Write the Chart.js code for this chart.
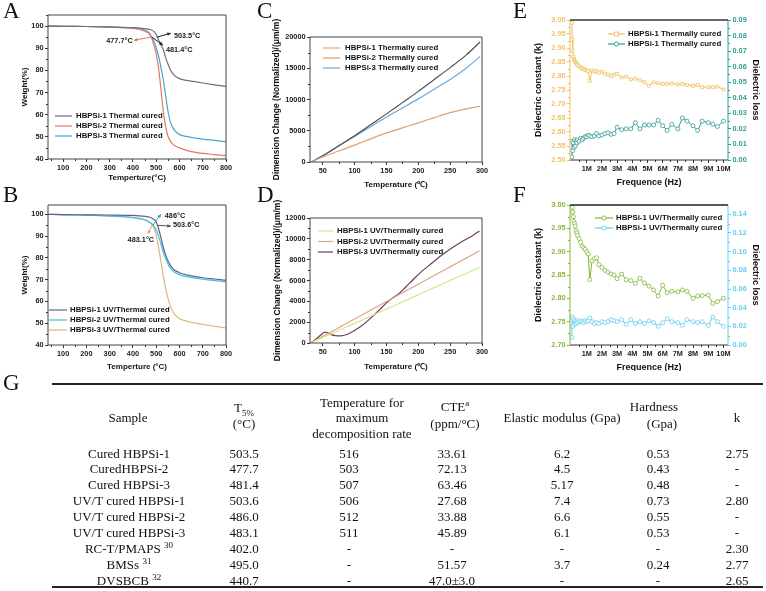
<!DOCTYPE html>
<html>
<head>
<meta charset="utf-8">
<script src="https://cdn.jsdelivr.net/npm/chart.js@4.4.0/dist/chart.umd.min.js"></script>
<style>
  body { margin: 0; background: #fff; width: 766px; height: 591px; position: relative; overflow: hidden; }
  canvas { position: absolute; }
  .lbl { position: absolute; font-family: "Liberation Serif", serif; font-size: 23px; line-height: 23px; color: #111; }
  #tbl { position: absolute; left: 0; top: 371px; width: 766px; height: 220px; background: #fff; }
  .c { position: absolute; width: 160px; text-align: center; font-family: "Liberation Serif", serif;
       font-size: 13px; line-height: 15px; white-space: nowrap; color: #111; }
  .c sup, .c sub { font-size: 9px; line-height: 0; }
  .rule { position: absolute; left: 52px; width: 711px; background: #222; }
</style>
</head>
<body>
<canvas id="cA" width="252" height="186" style="left:0;top:0"></canvas>
<canvas id="cB" width="252" height="190" style="left:0;top:185px"></canvas>
<canvas id="cC" width="255" height="192" style="left:255px;top:0"></canvas>
<canvas id="cD" width="255" height="190" style="left:255px;top:185px"></canvas>
<canvas id="cE" width="256" height="192" style="left:510px;top:0"></canvas>
<canvas id="cF" width="256" height="190" style="left:510px;top:185px"></canvas>
<div class="lbl" style="left:3px;top:-1px">A</div>
<div class="lbl" style="left:3px;top:183px">B</div>
<div class="lbl" style="left:257px;top:-1px">C</div>
<div class="lbl" style="left:257px;top:183px">D</div>
<div class="lbl" style="left:513px;top:-1px">E</div>
<div class="lbl" style="left:513px;top:183px">F</div>
<div id="tbl">
  <div class="lbl" style="left:3px;top:0">G</div>
  <div class="rule" style="top:12px;height:2px"></div>
  <div class="rule" style="top:215px;height:2px"></div>
</div>
<script>
// ------------------
// data
// ------------------
const tgaTemp = [35, 100, 200, 300, 400, 440, 460, 470, 480, 490, 500, 510, 520, 530, 540, 550, 560, 570, 580, 600, 630, 660, 700, 750, 800];
const thermal1 = [100, 99.9, 99.8, 99.6, 99.3, 99.0, 98.7, 98.5, 98.2, 97.6, 96.2, 93.8, 91.5, 89.5, 86.0, 83.0, 80.5, 78.8, 77.6, 76.3, 75.5, 75.0, 74.3, 73.5, 72.8];
const thermal2 = [100, 99.9, 99.8, 99.5, 99.0, 98.2, 97.2, 96.5, 94.8, 91.5, 87.5, 81.0, 72.0, 62.0, 55.0, 50.5, 48.3, 46.8, 46.0, 45.0, 43.9, 43.2, 42.5, 42.0, 41.5];
const thermal3 = [100, 99.9, 99.8, 99.5, 99.2, 98.6, 97.8, 96.9, 95.3, 93.2, 90.2, 86.5, 81.5, 76.0, 69.0, 62.0, 57.0, 54.5, 52.8, 51.0, 50.2, 49.6, 49.0, 48.4, 47.8];
const uv1 = [100, 99.9, 99.8, 99.7, 99.5, 99.2, 99.0, 98.8, 98.3, 97.6, 96.5, 93.5, 89.5, 85.0, 81.5, 78.8, 76.8, 75.3, 74.3, 73.2, 72.2, 71.6, 70.9, 70.3, 69.7];
const uv2 = [100, 99.8, 99.6, 99.2, 98.5, 97.8, 97.2, 96.6, 95.8, 94.5, 92.8, 90.0, 86.5, 82.8, 79.8, 77.3, 75.5, 74.2, 73.3, 72.3, 71.4, 70.8, 70.2, 69.6, 69.0];
const uv3 = [100, 99.9, 99.7, 99.3, 98.6, 97.8, 97.0, 96.3, 95.4, 93.8, 90.5, 85.0, 78.5, 72.0, 66.5, 61.8, 58.2, 55.6, 53.9, 52.1, 51.0, 50.3, 49.5, 48.6, 47.8];

const cteTemp = [32, 50, 75, 100, 125, 150, 175, 200, 225, 250, 275, 297];
const cteT1 = [0, 800, 1750, 2700, 3700, 4650, 5450, 6250, 7100, 7900, 8500, 8900];
const cteT2 = [0, 1000, 2600, 4200, 5950, 7700, 9500, 11300, 13200, 15100, 17100, 19200];
const cteT3 = [0, 1000, 2550, 4100, 5650, 7200, 8650, 10100, 11650, 13200, 15000, 16900];

const uvTemp = [31, 40, 48, 53, 57, 62, 70, 78, 88, 98, 110, 120, 130, 140, 150, 160, 168, 180, 192, 205, 220, 235, 252, 270, 285, 296];
const cteU1 = [0, 250, 470, 600, 710, 850, 1070, 1290, 1560, 1840, 2160, 2440, 2710, 2990, 3260, 3530, 3750, 4080, 4410, 4770, 5180, 5590, 6060, 6550, 6960, 7260];
const cteU2 = [0, 300, 570, 740, 870, 1040, 1300, 1570, 1900, 2240, 2640, 2970, 3310, 3640, 3980, 4310, 4580, 4980, 5380, 5810, 6310, 6820, 7380, 7980, 8480, 8850];
const cteU3 = [0, 400, 820, 1050, 980, 830, 700, 680, 820, 1130, 1600, 2100, 2650, 3250, 3850, 4350, 4650, 5350, 6100, 6850, 7600, 8350, 9100, 9800, 10300, 10750];

const freqM = [0.02, 0.05, 0.08, 0.12, 0.16, 0.2, 0.25, 0.3, 0.35, 0.4, 0.5, 0.6, 0.7, 0.8, 0.9, 1.0, 1.1, 1.2, 1.35, 1.5,
  1.65, 1.8, 2.0, 2.2, 2.4, 2.6, 2.8, 3.0, 3.3, 3.6, 3.9, 4.2, 4.5, 4.8, 5.1, 5.4, 5.7, 6.0, 6.3, 6.6,
  7.0, 7.3, 7.6, 8.0, 8.3, 8.6, 9.0, 9.3, 9.6, 10.0];
const kThermal = [2.99, 2.93, 2.89, 2.87, 2.86, 2.855, 2.85, 2.848, 2.842, 2.84, 2.835, 2.83, 2.828, 2.825, 2.822, 2.82, 2.818, 2.783, 2.82, 2.815,
  2.818, 2.812, 2.815, 2.808, 2.805, 2.80, 2.805, 2.808, 2.795, 2.798, 2.788, 2.79, 2.785, 2.778, 2.765, 2.777, 2.774, 2.772, 2.772, 2.774,
  2.77, 2.772, 2.768, 2.765, 2.768, 2.76, 2.76, 2.76, 2.762, 2.752];
const lossThermal = [0.002, 0.012, 0.006, 0.011, 0.008, 0.013, 0.009, 0.012, 0.011, 0.013, 0.012, 0.014, 0.013, 0.014, 0.015, 0.015, 0.016, 0.0155, 0.015, 0.0155,
  0.017, 0.0155, 0.016, 0.017, 0.0175, 0.0165, 0.017, 0.021, 0.0195, 0.02, 0.02, 0.024, 0.02, 0.0225, 0.0225, 0.0225, 0.0255, 0.022, 0.019, 0.023,
  0.02, 0.027, 0.025, 0.022, 0.019, 0.025, 0.024, 0.023, 0.0215, 0.025];
const kUV = [3.0, 2.995, 2.985, 2.975, 2.965, 2.96, 2.955, 2.945, 2.94, 2.935, 2.928, 2.92, 2.912, 2.908, 2.905, 2.90, 2.895, 2.84, 2.88, 2.885,
  2.887, 2.872, 2.866, 2.86, 2.856, 2.852, 2.85, 2.842, 2.852, 2.84, 2.838, 2.832, 2.843, 2.833, 2.826, 2.818, 2.805, 2.828, 2.812, 2.815,
  2.814, 2.818, 2.815, 2.80, 2.805, 2.806, 2.807, 2.789, 2.793, 2.80];
const lossUV = [0.008, 0.03, 0.02, 0.028, 0.022, 0.026, 0.024, 0.023, 0.026, 0.024, 0.025, 0.026, 0.025, 0.024, 0.026, 0.025, 0.026, 0.029, 0.025, 0.023,
  0.024, 0.023, 0.025, 0.024, 0.025, 0.027, 0.026, 0.025, 0.027, 0.022, 0.027, 0.023, 0.025, 0.023, 0.026, 0.024, 0.02, 0.024, 0.028, 0.025,
  0.024, 0.021, 0.027, 0.025, 0.024, 0.025, 0.021, 0.03, 0.025, 0.02];

// tick labels
const tgaTempTicks = [100, 200, 300, 400, 500, 600, 700, 800];
const weightTicks = [40, 50, 60, 70, 80, 90, 100];
const cteTempTicks = [50, 100, 150, 200, 250, 300];
const cteTicksC = [0, 5000, 10000, 15000, 20000];
const cteTicksD = [0, 2000, 4000, 6000, 8000, 10000, 12000];
const freqTicks = [1, 2, 3, 4, 5, 6, 7, 8, 9, 10];
const kTicksE = [2.5, 2.55, 2.6, 2.65, 2.7, 2.75, 2.8, 2.85, 2.9, 2.95, 3.0];
const lossTicksE = [0, 0.01, 0.02, 0.03, 0.04, 0.05, 0.06, 0.07, 0.08, 0.09];
const kTicksF = [2.7, 2.75, 2.8, 2.85, 2.9, 2.95, 3.0];
const lossTicksF = [0, 0.02, 0.04, 0.06, 0.08, 0.1, 0.12, 0.14];

// table G
const sampleNames = ['Cured HBPSi-1', 'CuredHBPSi-2', 'Cured HBPSi-3', 'UV/T cured HBPSi-1', 'UV/T cured HBPSi-2',
  'UV/T cured HBPSi-3', 'RC-T/PMAPS <sup>30</sup>', 'BMSs <sup>31</sup>', 'DVSBCB <sup>32</sup>'];
const t5 = ['503.5', '477.7', '481.4', '503.6', '486.0', '483.1', '402.0', '495.0', '440.7'];
const tMaxRate = ['516', '503', '507', '506', '512', '511', '-', '-', '-'];
const cteVals = ['33.61', '72.13', '63.46', '27.68', '33.88', '45.89', '-', '51.57', '47.0±3.0'];
const modulus = ['6.2', '4.5', '5.17', '7.4', '6.6', '6.1', '-', '3.7', '-'];
const hardness = ['0.53', '0.43', '0.48', '0.73', '0.55', '0.53', '-', '0.24', '-'];
const kVals = ['2.75', '-', '-', '2.80', '-', '-', '2.30', '2.77', '2.65'];

// ------------------
// helpers
// ------------------
const SANS = '"Liberation Sans", Arial, sans-serif';

function pts(xs, ys) {
  return xs.map((x, i) => ({ x: x, y: ys[i] }));
}

function mids(t, min, max) {
  const out = [];
  for (let i = 0; i < t.length - 1; i++) out.push((t[i] + t[i + 1]) / 2);
  const st = t[1] - t[0];
  if (t[0] - st / 2 >= min) out.push(t[0] - st / 2);
  if (t[t.length - 1] + st / 2 <= max) out.push(t[t.length - 1] + st / 2);
  return out;
}

// plot box -> padding and axis sizes
function lay(w, h, L, R, T, B, yTX, xTY, ys, xs, y2TX) {
  const left = yTX - ys * 0.6;
  const bot = xTY + xs * 0.6;
  const right = y2TX ? y2TX + ys * 0.6 : R;
  return { pad: { left: left, top: T, right: w - right, bottom: h - bot }, yW: L - left, xH: bot - B, y2W: right - R };
}

function axis(o) {
  return {
    type: 'linear', position: o.pos, min: o.min, max: o.max,
    afterBuildTicks: s => { s.ticks = o.ticks.map(v => ({ value: v })); },
    afterFit: s => { if (o.pos === 'bottom') s.height = o.size; else s.width = o.size; },
    grid: { drawOnChartArea: false, color: o.color || '#333', tickLength: 3, lineWidth: 1 },
    border: { display: false },
    ticks: {
      color: o.color || '#222', autoSkip: false, maxRotation: 0, padding: 1.5,
      font: { family: SANS, size: 7.3, weight: 'bold' }, callback: o.fmt || (v => String(v))
    },
    title: { display: true, text: o.title, color: '#111', padding: 0, font: { family: SANS, size: o.ts, weight: 'bold' } }
  };
}

function line(label, xs, ys, color, extra) {
  return Object.assign({
    label: label, data: pts(xs, ys), borderColor: color, borderWidth: 1.2,
    pointRadius: 0, fill: false, cubicInterpolationMode: 'monotone'
  }, extra || {});
}

function marker(ctx, kind, x, y, color) {
  ctx.save();
  ctx.strokeStyle = color; ctx.fillStyle = '#fff'; ctx.lineWidth = 0.9;
  ctx.beginPath();
  if (kind === 'rect') ctx.rect(x - 2, y - 2, 4, 4);
  else ctx.arc(x, y, 2.1, 0, Math.PI * 2);
  ctx.fill(); ctx.stroke();
  ctx.restore();
}

const deco = {
  id: 'deco',
  afterDraw(chart, args, o) {
    const ctx = chart.ctx, a = chart.chartArea;
    ctx.save();
    // minor ticks
    const minor = o.minor || {};
    Object.keys(minor).forEach(id => {
      const s = chart.scales[id];
      ctx.strokeStyle = s.options.grid.color; ctx.lineWidth = 1;
      ctx.beginPath();
      minor[id].forEach(v => {
        const p = Math.round(s.getPixelForValue(v)) + 0.5;
        if (s.position === 'bottom') { ctx.moveTo(p, a.bottom); ctx.lineTo(p, a.bottom + 2); }
        else if (s.position === 'left') { ctx.moveTo(a.left - 2, p); ctx.lineTo(a.left, p); }
        else { ctx.moveTo(a.right, p); ctx.lineTo(a.right + 2, p); }
      });
      ctx.stroke();
    });
    // frame
    const f = o.frame;
    const side = (c, w, x1, y1, x2, y2) => {
      ctx.strokeStyle = c; ctx.lineWidth = w;
      ctx.beginPath(); ctx.moveTo(x1, y1); ctx.lineTo(x2, y2); ctx.stroke();
    };
    side(f.bottom, 1, a.left, a.bottom, a.right, a.bottom);
    side(f.left, 1, a.left, a.top, a.left, a.bottom);
    side(f.right, 1, a.right, a.top, a.right, a.bottom);
    side(f.top, f.topW || 1, a.left, a.top, a.right, a.top);
    // legend
    if (o.legend) {
      const L = o.legend;
      ctx.font = 'bold 7.8px ' + SANS; ctx.textBaseline = 'middle'; ctx.textAlign = 'left';
      L.items.forEach((it, i) => {
        const y = L.y + i * L.gap;
        ctx.strokeStyle = it.color; ctx.lineWidth = 1.2;
        ctx.beginPath(); ctx.moveTo(L.x, y); ctx.lineTo(L.x + L.len, y); ctx.stroke();
        if (it.marker) marker(ctx, it.marker, L.x + L.len / 2, y, it.color);
        ctx.fillStyle = '#111';
        ctx.fillText(it.label, L.x + L.len + L.pad, y);
      });
    }
    // arrows with temperature notes
    (o.notes || []).forEach(n => {
      const sx = chart.scales.x, sy = chart.scales.y;
      const x1 = sx.getPixelForValue(n.from[0]), y1 = sy.getPixelForValue(n.from[1]);
      const x2 = sx.getPixelForValue(n.to[0]), y2 = sy.getPixelForValue(n.to[1]);
      ctx.strokeStyle = n.color; ctx.fillStyle = n.color; ctx.lineWidth = 1;
      ctx.beginPath(); ctx.moveTo(x1, y1); ctx.lineTo(x2, y2); ctx.stroke();
      const ang = Math.atan2(y2 - y1, x2 - x1);
      ctx.beginPath();
      ctx.moveTo(x2, y2);
      ctx.lineTo(x2 - 4 * Math.cos(ang - 0.45), y2 - 4 * Math.sin(ang - 0.45));
      ctx.lineTo(x2 - 4 * Math.cos(ang + 0.45), y2 - 4 * Math.sin(ang + 0.45));
      ctx.closePath(); ctx.fill();
      ctx.font = 'bold 7.3px ' + SANS; ctx.textBaseline = 'middle';
      ctx.textAlign = n.align || 'left'; ctx.fillStyle = '#222';
      ctx.fillText(n.text, sx.getPixelForValue(n.at[0]), sy.getPixelForValue(n.at[1]));
    });
    ctx.restore();
  }
};

function draw(id, datasets, scales, pad, opts) {
  new Chart(document.getElementById(id), {
    type: 'line',
    data: { datasets: datasets },
    options: {
      responsive: false, animation: false, layout: { padding: pad }, scales: scales,
      plugins: { legend: { display: false }, tooltip: { enabled: false }, deco: opts }
    },
    plugins: [deco]
  });
}

const grayFrame = { top: '#444', right: '#444', bottom: '#444', left: '#444' };

// ------------------
// A: TGA thermal cured
// ------------------
const colA = ['#707080', '#e07a62', '#4ba3d3'];
const namesA = ['HBPSi-1 Thermal cured', 'HBPSi-2 Thermal cured', 'HBPSi-3 Thermal cured'];
let g = lay(252, 186, 48, 226, 15, 159, 25, 178, 8, 8);
draw('cA', [
  line(namesA[0], tgaTemp, thermal1, colA[0]),
  line(namesA[1], tgaTemp, thermal2, colA[1]),
  line(namesA[2], tgaTemp, thermal3, colA[2])
], {
  x: axis({ pos: 'bottom', min: 35, max: 800, ticks: tgaTempTicks, size: g.xH, title: 'Temperture(°C)', ts: 8 }),
  y: axis({ pos: 'left', min: 40, max: 105, ticks: weightTicks, size: g.yW, title: 'Weight(%)', ts: 8 })
}, g.pad, {
  frame: grayFrame,
  minor: { x: mids(tgaTempTicks, 35, 800), y: mids(weightTicks, 40, 105) },
  legend: { x: 55, y: 116, gap: 10, len: 17, pad: 4, items: namesA.map((n, i) => ({ label: n, color: colA[i] })) },
  notes: [
    { from: [503.5, 95], to: [563, 96.8], color: '#222', text: '503.5°C', at: [576, 95.5] },
    { from: [477.7, 95], to: [404, 93.6], color: '#e07a62', text: '477.7°C', at: [342, 93.2], align: 'center' },
    { from: [481.4, 95], to: [529, 91.4], color: '#222', text: '481.4°C', at: [542, 89.1] }
  ]
});

// ------------------
// B: TGA UV/thermal cured
// ------------------
const colB = ['#5c6590', '#3ec3dc', '#dbb87c'];
const namesB = ['HBPSi-1 UV/Thermal cured', 'HBPSi-2 UV/Thermal cured', 'HBPSi-3 UV/Thermal cured'];
g = lay(252, 190, 48, 226, 20, 160, 25, 182, 8, 8);
draw('cB', [
  line(namesB[0], tgaTemp, uv1, colB[0]),
  line(namesB[1], tgaTemp, uv2, colB[1]),
  line(namesB[2], tgaTemp, uv3, colB[2])
], {
  x: axis({ pos: 'bottom', min: 35, max: 800, ticks: tgaTempTicks, size: g.xH, title: 'Temperture (°C)', ts: 8 }),
  y: axis({ pos: 'left', min: 40, max: 104.3, ticks: weightTicks, size: g.yW, title: 'Weight(%)', ts: 8 })
}, g.pad, {
  frame: grayFrame,
  minor: { x: mids(tgaTempTicks, 35, 800), y: mids(weightTicks, 40, 104.3) },
  legend: { x: 49, y: 125, gap: 10, len: 18, pad: 3, items: namesB.map((n, i) => ({ label: n, color: colB[i] })) },
  notes: [
    { from: [486, 95], to: [520, 100.1], color: '#2aa9b0', text: '486°C', at: [537, 99.4] },
    { from: [503.6, 95], to: [563, 94.6], color: '#555', text: '503.6°C', at: [572, 95.1] },
    { from: [483.1, 95], to: [464, 91], color: '#e0a060', text: '483.1°C', at: [434, 88.2], align: 'center' }
  ]
});

// ------------------
// C: dimension change, thermally cured
// ------------------
const colC = ['#e0a070', '#505050', '#6fa8d8'];
const legC = ['#e8a878', '#e09858', '#6fa8d8'];
const namesC = ['HBPSi-1 Thermally cured', 'HBPSi-2 Thermally cured', 'HBPSi-3 Thermally cured'];
g = lay(255, 192, 55, 227, 37, 162, 22, 185, 8.5, 8);
draw('cC', [
  line(namesC[0], cteTemp, cteT1, colC[0]),
  line(namesC[1], cteTemp, cteT2, colC[1]),
  line(namesC[2], cteTemp, cteT3, colC[2])
], {
  x: axis({ pos: 'bottom', min: 30, max: 300, ticks: cteTempTicks, size: g.xH, title: 'Temperature (℃)', ts: 8 }),
  y: axis({ pos: 'left', min: 0, max: 20000, ticks: cteTicksC, size: g.yW, title: 'Dimension Change (Normalized)/(μm/m)', ts: 8.5 })
}, g.pad, {
  frame: grayFrame,
  minor: { x: mids(cteTempTicks, 30, 300), y: mids(cteTicksC, 0, 20000) },
  legend: { x: 68, y: 48, gap: 10, len: 17, pad: 5, items: namesC.map((n, i) => ({ label: n, color: legC[i] })) }
});

// ------------------
// D: dimension change, UV/thermally cured
// ------------------
const colD = ['#d8e58a', '#dca88a', '#6b3d5c'];
const namesD = ['HBPSi-1 UV/Thermally cured', 'HBPSi-2 UV/Thermally cured', 'HBPSi-3 UV/Thermally cured'];
g = lay(255, 190, 55, 227, 33, 158, 23, 182, 8.5, 8);
draw('cD', [
  line(namesD[0], uvTemp, cteU1, colD[0]),
  line(namesD[1], uvTemp, cteU2, colD[1]),
  line(namesD[2], uvTemp, cteU3, colD[2])
], {
  x: axis({ pos: 'bottom', min: 30, max: 300, ticks: cteTempTicks, size: g.xH, title: 'Temperature (℃)', ts: 8 }),
  y: axis({ pos: 'left', min: 0, max: 12000, ticks: cteTicksD, size: g.yW, title: 'Dimension Change (Normalized)/(μm/m)', ts: 8.5 })
}, g.pad, {
  frame: grayFrame,
  minor: { x: mids(cteTempTicks, 30, 300), y: mids(cteTicksD, 0, 12000) },
  legend: { x: 63, y: 46, gap: 10.5, len: 15, pad: 4, items: namesD.map((n, i) => ({ label: n, color: colD[i] })) }
});

// ------------------
// E / F: dielectric
// ------------------
function dielectric(id, h, T, B, kVals2, lossVals, kCol, lossCol, kTicks, lossTicks, kMin, lossMax, kMarker, name, leg, topCol, topW) {
  const gg = lay(256, h, 60, 218, T, B, 29, 183, 9, 9, 245);
  draw(id, [
    line(name, freqM, kVals2, kCol, { yAxisID: 'y', borderWidth: 1, cubicInterpolationMode: 'default', pointRadius: 2, pointStyle: kMarker === 'rect' ? 'rect' : 'circle', pointBorderWidth: 0.8, pointBackgroundColor: '#fff' }),
    line(name, freqM, lossVals, lossCol, { yAxisID: 'y2', borderWidth: 1, cubicInterpolationMode: 'default', pointRadius: 2, pointBorderWidth: 0.8, pointBackgroundColor: '#fff' })
  ], {
    x: axis({ pos: 'bottom', min: -0.1, max: 10.3, ticks: freqTicks, size: gg.xH, title: 'Frequence (Hz)', ts: 9, fmt: v => v + 'M' }),
    y: axis({ pos: 'left', min: kMin, max: 3.0, ticks: kTicks, size: gg.yW, title: 'Dielectric constant (k)', ts: 9, color: kCol, fmt: v => v.toFixed(2) }),
    y2: axis({ pos: 'right', min: 0, max: lossMax, ticks: lossTicks, size: gg.y2W, title: 'Dielectric loss', ts: 9, color: lossCol, fmt: v => v.toFixed(2) })
  }, gg.pad, {
    frame: { top: topCol, topW: topW, bottom: '#333', left: kCol, right: lossCol },
    minor: { x: mids(freqTicks, -0.1, 10.3), y: mids(kTicks, kMin, 3.0), y2: mids(lossTicks, 0, lossMax) },
    legend: Object.assign({ gap: 10, pad: 3, items: [
      { label: name, color: kCol, marker: kMarker },
      { label: name, color: lossCol, marker: 'circle' }
    ] }, leg)
  });
}

dielectric('cE', 192, 20, 160, kThermal, lossThermal, '#f0c060', '#2e9c93', kTicksE, lossTicksE, 2.5, 0.09, 'rect',
  'HBPSi-1 Thermally cured', { x: 98, y: 34, len: 17 }, '#666', 2);
dielectric('cF', 190, 20, 160, kUV, lossUV, '#84b83a', '#66ccf0', kTicksF, lossTicksF, 2.7, 0.15, 'circle',
  'HBPSi-1 UV/Thermally cured', { x: 85, y: 33, len: 18 }, '#222', 1.5);

// ------------------
// G: table
// ------------------
const tbl = document.getElementById('tbl');
function cell(html, cx, cy) {
  const d = document.createElement('div');
  d.className = 'c';
  d.innerHTML = html;
  d.style.left = (cx - 80) + 'px';
  d.style.top = (cy - 371 - 7.5) + 'px';
  tbl.appendChild(d);
}
cell('Sample', 128, 417);
cell('T<sub>5%</sub>', 244, 407);
cell('(°C)', 244, 423);
cell('Temperature for', 362, 402);
cell('maximum', 362, 417);
cell('decomposition rate', 362, 433);
cell('CTE<sup>a</sup>', 455, 406);
cell('(ppm/°C)', 455, 423);
cell('Elastic modulus (Gpa)', 562, 417);
cell('Hardness', 654, 406);
cell('(Gpa)', 662, 423);
cell('k', 737, 417);

const columns = [[sampleNames, 129], [t5, 244], [tMaxRate, 349], [cteVals, 452], [modulus, 562], [hardness, 658], [kVals, 737]];
sampleNames.forEach((_, r) => {
  const y = 453 + r * 15.9;
  columns.forEach(([vals, cx]) => cell(vals[r], cx, y));
});
</script>
</body>
</html>
